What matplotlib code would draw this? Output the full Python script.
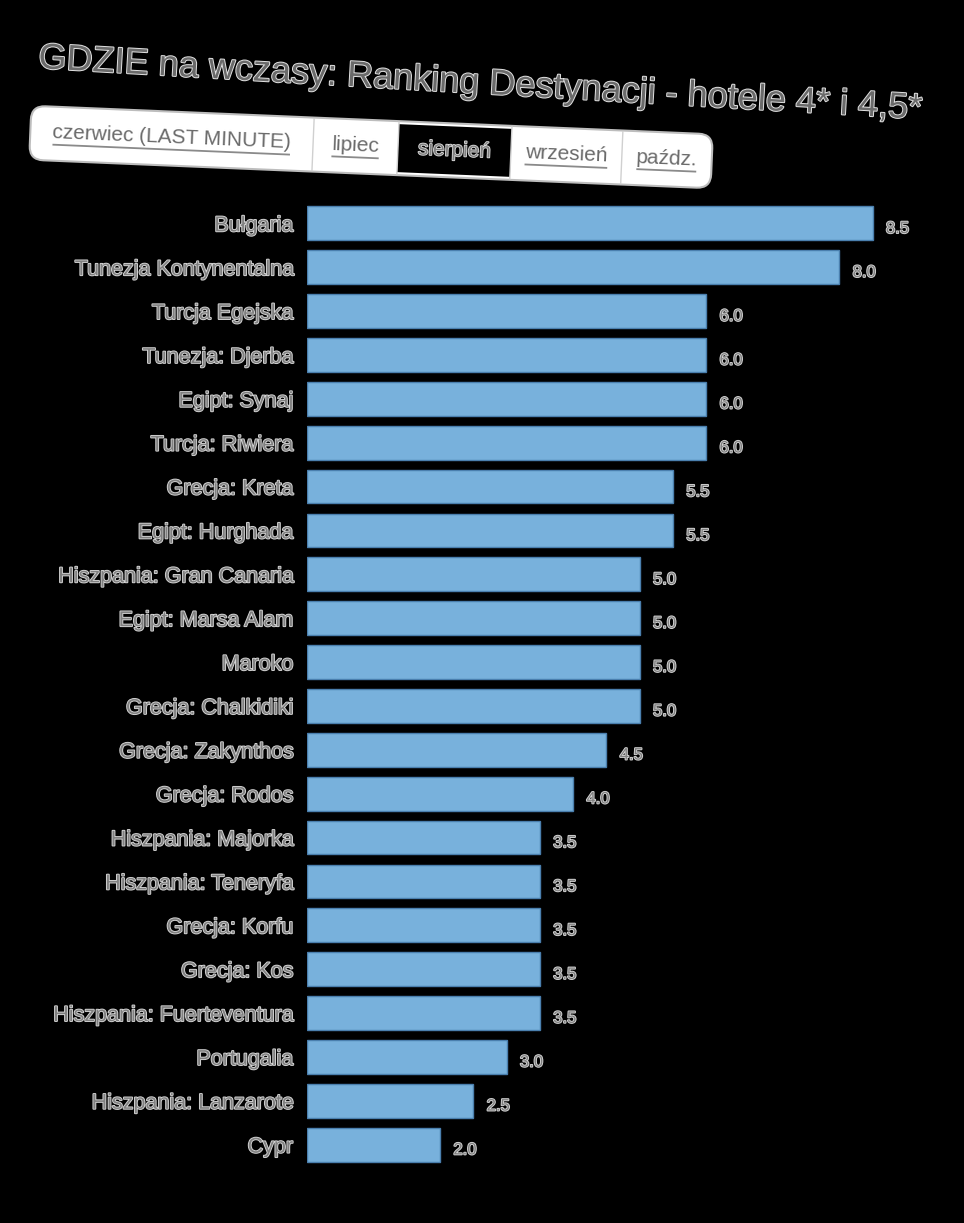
"""Ranking destynacji (sierpień) - poziomy wykres słupkowy na czarnym tle."""

import matplotlib

matplotlib.use("Agg")
import matplotlib.pyplot as plt
import matplotlib.patheffects as pe
from matplotlib.font_manager import FontProperties
from matplotlib.patches import FancyBboxPatch, Rectangle
from matplotlib.textpath import TextPath
from matplotlib.transforms import Affine2D

W, H = 964, 1223

TITLE = "GDZIE na wczasy: Ranking Destynacji - hotele 4* i 4,5*"
TABS = ["czerwiec (LAST MINUTE)", "lipiec", "sierpień", "wrzesień", "paźdz."]
ACTIVE_TAB = "sierpień"

destinations = [
    "Bułgaria", "Tunezja Kontynentalna", "Turcja Egejska", "Tunezja: Djerba",
    "Egipt: Synaj", "Turcja: Riwiera", "Grecja: Kreta", "Egipt: Hurghada",
    "Hiszpania: Gran Canaria", "Egipt: Marsa Alam", "Maroko", "Grecja: Chalkidiki",
    "Grecja: Zakynthos", "Grecja: Rodos", "Hiszpania: Majorka", "Hiszpania: Teneryfa",
    "Grecja: Korfu", "Grecja: Kos", "Hiszpania: Fuerteventura", "Portugalia",
    "Hiszpania: Lanzarote", "Cypr",
]
scores = [8.5, 8.0, 6.0, 6.0, 6.0, 6.0, 5.5, 5.5, 5.0, 5.0, 5.0, 5.0,
          4.5, 4.0, 3.5, 3.5, 3.5, 3.5, 3.5, 3.0, 2.5, 2.0]

FONT = "Liberation Sans"
FILL = "#808080"
TEXT_FX = [pe.withStroke(linewidth=1.3, foreground="#d6d6d6")]


def main() -> None:
    fig = plt.figure(figsize=(W / 100, H / 100), dpi=100, facecolor="black")

    # pixel coords (y from top) -> figure
    def px(angle=0.0, cx=0.0, cy=0.0):
        return (Affine2D().rotate_deg_around(cx, cy, angle)
                + Affine2D().scale(1 / W, -1 / H).translate(0, 1)
                + fig.transFigure)

    fig.text(480, 84, TITLE, transform=px(), rotation=-3.3, rotation_mode="anchor",
             ha="center", va="center", fontsize=26, family=FONT, color="#6a6a6a",
             path_effects=[pe.withStroke(linewidth=1.4, foreground="#e2e2e2")])

    # tab bar
    x0, x1, y0, y1 = 30, 712, 120, 174
    cx, cy = (x0 + x1) / 2, (y0 + y1) / 2
    tr = px(2.4, cx, cy)
    fig.patches.append(FancyBboxPatch((x0, y0), x1 - x0, y1 - y0,
                                      boxstyle="round,pad=0,rounding_size=14",
                                      facecolor="white", edgecolor="#bdbdbd",
                                      linewidth=1.5, transform=tr))
    edges = [30, 313, 398, 511, 622, 712]
    fp = FontProperties(family=FONT)
    for i, label in enumerate(TABS):
        a, b = edges[i], edges[i + 1]
        if i > 0:
            fig.lines.append(plt.Line2D([a, a], [y0 + 1, y1 - 1], color="#d0d0d0",
                                        linewidth=1, transform=tr))
        mid = (a + b) / 2
        if label == ACTIVE_TAB:
            fig.patches.append(Rectangle((a, y0 + 3), b - a, y1 - y0 - 6,
                                         facecolor="black", edgecolor="none", transform=tr))
            fig.text(mid, cy, label, transform=tr, rotation=-2.4, rotation_mode="anchor",
                     ha="center", va="center", fontsize=15, family=FONT, color=FILL,
                     path_effects=[pe.withStroke(linewidth=1.2, foreground="#dcdcdc")])
        else:
            fig.text(mid, cy - 1, label, transform=tr, rotation=-2.4, rotation_mode="anchor",
                     ha="center", va="center", fontsize=15, family=FONT, color="#6a6a6a")
            wpx = TextPath((0, 0), label, size=15 * 100 / 72, prop=fp).get_extents().width
            fig.lines.append(plt.Line2D([mid - wpx / 2, mid + wpx / 2], [cy + 11, cy + 11],
                                        color="#8a8a8a", linewidth=1.3, transform=tr))

    # bars
    ax = fig.add_axes([307 / W, 1 - 1171 / H, 1 - 307 / W - 0.012, (1171 - 197) / H])
    ax.set_facecolor("black")
    ypos = list(range(len(destinations)))
    ax.barh(ypos, scores, height=0.77, color="#78b1dc", edgecolor="#4a7fae", linewidth=1)
    for y, v in zip(ypos, scores):
        ax.text(v + 0.2, y + 0.12, f"{v:.1f}", ha="left", va="center", fontsize=12,
                family=FONT, color=FILL, path_effects=TEXT_FX)
    ax.set_xlim(0, 9.7)
    ax.set_ylim(len(destinations) - 0.4, -0.6)
    ax.set_yticks(ypos)
    ax.set_yticklabels(destinations, fontsize=15.5, family=FONT, color=FILL)
    for t in ax.get_yticklabels():
        t.set_path_effects(TEXT_FX)
    ax.tick_params(axis="y", length=0, pad=10)
    ax.set_xticks([])
    for s in ax.spines.values():
        s.set_visible(False)

    fig.savefig("out.png", dpi=100, facecolor="black")


if __name__ == "__main__":
    main()
